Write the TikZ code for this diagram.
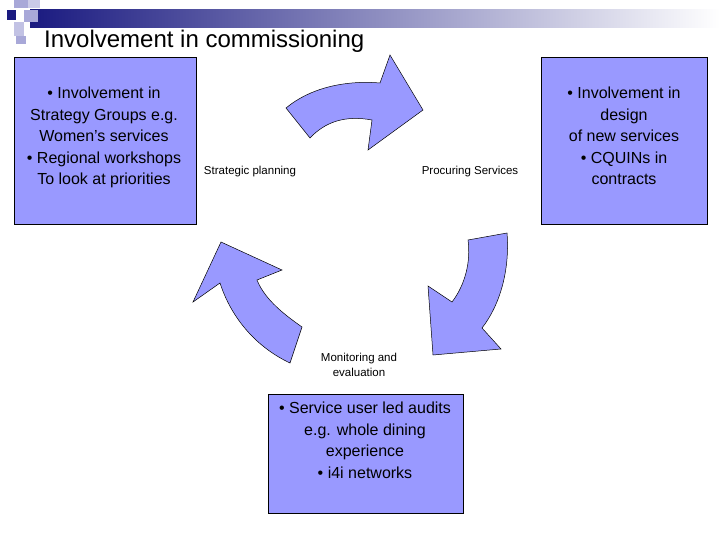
\documentclass[tikz,border=0pt]{standalone}
\usepackage{fontspec}
\setmainfont{Liberation Sans}
\definecolor{boxc}{HTML}{9999FF}
\definecolor{navy}{HTML}{1A1A80}
\definecolor{lsq}{HTML}{A8A8D8}
\begin{document}
\begin{tikzpicture}[x=1pt,y=-1pt,
  box/.style={draw=black,fill=boxc,line width=0.6pt,align=center,font=\fontsize{16}{21.5}\selectfont,inner sep=0pt},
  arr/.style={draw=black,fill=boxc,line width=0.5pt},
  lab/.style={font=\fontsize{11.5}{15}\selectfont,align=center,inner sep=0pt}]
\useasboundingbox (0,0) rectangle (720,540);
% header decoration
\shade[left color=navy,right color=white] (30,10) rectangle (720,28);
\fill[lsq] (14,0) rectangle (28,8);
\fill[lsq!60] (28,0) rectangle (40,8);
\fill[navy] (7,10) rectangle (16,20);
\fill[lsq] (24,10) rectangle (38,22);
\fill[lsq!70] (14,22) rectangle (24,36);
\fill[lsq] (16,36) rectangle (26,44);
\node[anchor=west,inner sep=0pt,font=\fontsize{24}{28}\selectfont] (title) at (44,41) {Involvement in commissioning};
% boxes
\node[box,minimum width=182,minimum height=167] (L) at (105,140.5) {};
\node[box,minimum width=166,minimum height=167] (R) at (624,140.5) {};
\node[box,minimum width=195,minimum height=119] (B) at (365.5,453.5) {};
\node[lab,font=\fontsize{16}{21.5}\selectfont,anchor=north] (Lt) at (104,87) {• Involvement in\\Strategy Groups e.g.\\Women’s services\\• Regional workshops\\To look at priorities};
\node[lab,font=\fontsize{16}{21.5}\selectfont,anchor=north] (Rt) at (624,87) {• Involvement in\\design\\of new services\\• CQUINs in\\contracts};
\node[lab,font=\fontsize{16}{21.5}\selectfont,anchor=north] (Bt) at (365,402) {• Service user led audits\\e.g. whole dining\\experience\\• i4i networks};
% labels
\node[lab] (sp) at (250,172) {Strategic planning};
\node[lab] (ps) at (470,172) {Procuring Services};
\node[lab] (me) at (359,365) {Monitoring and\\evaluation};
% curved arrows
\draw[arr] (286,108) .. controls (310,88) and (345,80) .. (380,83) -- (390,55) -- (423,110) -- (368,150) -- (372,120)
  .. controls (345,115) and (325,122) .. (310,138) -- cycle;
\draw[arr] (507,233) .. controls (510,270) and (500,305) .. (482,328) -- (501,349) -- (433,355) -- (428,286) -- (452,302)
  .. controls (465,285) and (471,262) .. (468,240) -- cycle;
\draw[arr] (302,327) .. controls (285,315) and (265,300) .. (257,280) -- (282,270) -- (221,242) -- (193,302) -- (220,283)
  .. controls (232,320) and (258,348) .. (290,363) -- cycle;
\end{tikzpicture}
\end{document}
